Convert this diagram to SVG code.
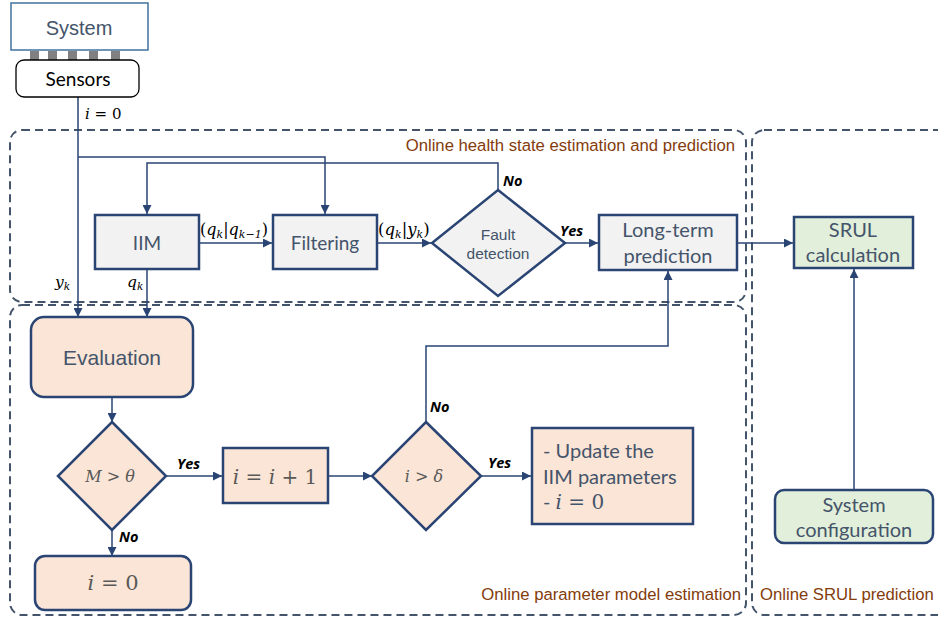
<svg xmlns="http://www.w3.org/2000/svg" width="938" height="621" viewBox="0 0 938 621">
<style>
.grp{fill:none;stroke:#44546a;stroke-width:2;stroke-dasharray:8 5}
.glab{font-family:"Liberation Sans",Arial,sans-serif;font-size:16.7px;fill:#843c0c}
.box{stroke:#2a4473;stroke-width:2.5}
.gray{fill:#f2f2f2}
.peach{fill:#fbe5d6}
.green{fill:#e2efda}
.t{font-family:Lato,"Open Sans",sans-serif;fill:#44546a;text-anchor:middle}
.ta{font-family:"Liberation Sans",Arial,sans-serif;fill:#44546a;text-anchor:middle}
.m{font-family:"DejaVu Serif","Liberation Serif",serif;font-style:italic;fill:#000}
.mg{font-family:"DejaVu Serif","Liberation Serif",serif;font-style:italic;fill:#595959;text-anchor:middle}
.yn{font-family:"Open Sans","Liberation Sans",sans-serif;font-weight:bold;font-style:italic;font-size:14.5px;fill:#000}
.c{fill:none;stroke:#2a4473;stroke-width:1.5}
</style>
<defs>
<marker id="ah" viewBox="0 0 10 10" refX="10" refY="5" markerWidth="9" markerHeight="9" markerUnits="userSpaceOnUse" orient="auto">
<path d="M0,0 L10,5 L0,10 z" fill="#2a4473"/>
</marker>
</defs>
<rect width="938" height="621" fill="#fff"/>

<g id="groups">
<rect class="grp" x="10" y="130" width="736" height="172" rx="12"/>
<rect class="grp" x="10" y="305" width="736" height="310" rx="12"/>
<rect class="grp" x="752" y="130" width="200" height="485" rx="12"/>
<text class="glab" x="735" y="151" text-anchor="end">Online health state estimation and prediction</text>
<text class="glab" x="741" y="600" text-anchor="end">Online parameter model estimation</text>
<text class="glab" x="760" y="600">Online SRUL prediction</text>
</g>

<g id="connectors">
<path class="c" d="M78,97 V317" marker-end="url(#ah)"/>
<path class="c" d="M78,157 H325 V214" marker-end="url(#ah)"/>
<path class="c" d="M498,190 V163 H147 V214" marker-end="url(#ah)"/>
<path class="c" d="M199,243 H272" marker-end="url(#ah)"/>
<path class="c" d="M377,243 H431" marker-end="url(#ah)"/>
<path class="c" d="M565,243 H598" marker-end="url(#ah)"/>
<path class="c" d="M737,243 H793" marker-end="url(#ah)"/>
<path class="c" d="M147,269 V317" marker-end="url(#ah)"/>
<path class="c" d="M112,397 V422" marker-end="url(#ah)"/>
<path class="c" d="M166,476 H222" marker-end="url(#ah)"/>
<path class="c" d="M328,476 H372" marker-end="url(#ah)"/>
<path class="c" d="M481,476 H531" marker-end="url(#ah)"/>
<path class="c" d="M426,422 V346 H668 V271" marker-end="url(#ah)"/>
<path class="c" d="M112,530 V556" marker-end="url(#ah)"/>
<path class="c" d="M854,490 V269" marker-end="url(#ah)"/>
<text class="m" x="85" y="119" font-size="15">i <tspan font-style="normal">= 0</tspan></text>
<text class="m" x="55" y="287" font-size="15.5">y<tspan font-size="10.5" dy="3">k</tspan></text>
<text class="m" x="127" y="287" font-size="15.5">q<tspan font-size="10.5" dy="3">k</tspan></text>
<text class="m" x="200" y="235" font-size="16"><tspan font-style="normal">(</tspan>q<tspan font-size="11" dy="3">k</tspan><tspan font-style="normal" dy="-3">|</tspan>q<tspan font-size="11" dy="3">k−1</tspan><tspan font-style="normal" dy="-3">)</tspan></text>
<text class="m" x="378" y="235" font-size="16.5"><tspan font-style="normal">(</tspan>q<tspan font-size="11" dy="3">k</tspan><tspan font-style="normal" dy="-3">|</tspan>y<tspan font-size="11" dy="3">k</tspan><tspan font-style="normal" dy="-3">)</tspan></text>
<text class="yn" x="503" y="186">No</text>
<text class="yn" x="560" y="236">Yes</text>
<text class="yn" x="177" y="469">Yes</text>
<text class="yn" x="119" y="542">No</text>
<text class="yn" x="430" y="412">No</text>
<text class="yn" x="488" y="468">Yes</text>
</g>

<g id="system">
<rect x="11" y="3" width="137" height="47" fill="#fff" stroke="#41719c" stroke-width="1.5"/>
<text class="ta" x="79" y="35" font-size="20">System</text>
</g>
<g id="pins" fill="#808080">
<rect x="30" y="51" width="9" height="9"/>
<rect x="48" y="51" width="9" height="9"/>
<rect x="68" y="51" width="9" height="9"/>
<rect x="89" y="51" width="9" height="9"/>
<rect x="111" y="51" width="9" height="9"/>
</g>
<g id="sensors">
<rect x="16" y="60" width="123" height="37" rx="8" fill="#fff" stroke="#000" stroke-width="1.3"/>
<text x="78" y="86" font-family="Lato,'Open Sans',sans-serif" font-size="19" fill="#000" text-anchor="middle">Sensors</text>
</g>

<g id="iim">
<rect class="box gray" x="95" y="215" width="104" height="54"/>
<text class="t" x="147" y="250" font-size="19">IIM</text>
</g>
<g id="filtering">
<rect class="box gray" x="273" y="215" width="104" height="54"/>
<text class="t" x="325" y="250" font-size="19">Filtering</text>
</g>
<g id="fault">
<polygon class="box gray" points="498,190 565,243 498,296 432,243"/>
<text class="ta" x="498" y="240" font-size="15.5">Fault</text>
<text class="ta" x="498" y="259" font-size="15.5">detection</text>
</g>
<g id="longterm">
<rect class="box gray" x="599" y="215" width="138" height="55"/>
<text class="t" x="668" y="237" font-size="20">Long-term</text>
<text class="t" x="668" y="263" font-size="20">prediction</text>
</g>
<g id="srul">
<rect class="box green" x="794" y="217" width="119" height="51"/>
<text class="t" x="853" y="237" font-size="20">SRUL</text>
<text class="t" x="853" y="262" font-size="20">calculation</text>
</g>
<g id="sysconfig">
<rect class="box green" x="775" y="490" width="158" height="53" rx="9"/>
<text class="t" x="854" y="512" font-size="20">System</text>
<text class="t" x="854" y="537" font-size="20">configuration</text>
</g>
<g id="evaluation">
<rect class="box peach" x="31" y="317" width="162" height="80" rx="13"/>
<text class="ta" x="112" y="365" font-size="21">Evaluation</text>
</g>
<g id="mtheta">
<polygon class="box peach" points="112,422 166,476 112,530 58,476"/>
<text class="mg" x="110" y="482" font-size="16">M <tspan font-style="normal">&gt;</tspan> θ</text>
</g>
<g id="incr">
<rect class="box peach" x="223" y="448" width="105" height="55"/>
<text class="mg" x="275" y="484" font-size="20">i <tspan font-style="normal">= </tspan>i<tspan font-style="normal"> + 1</tspan></text>
</g>
<g id="idelta">
<polygon class="box peach" points="426,422 481,476 426,530 372,476"/>
<text class="mg" x="424" y="482" font-size="16">i <tspan font-style="normal">&gt;</tspan> δ</text>
</g>
<g id="update">
<rect class="box peach" x="532" y="428" width="161" height="96"/>
<text x="543" y="458" font-family="Lato,'Open Sans',sans-serif" font-size="20" fill="#44546a">- Update the</text>
<text x="543" y="484" font-family="Lato,'Open Sans',sans-serif" font-size="20" fill="#44546a">IIM parameters</text>
<text x="543" y="509" font-size="20" fill="#44546a"><tspan font-family="Lato,'Open Sans',sans-serif">- </tspan><tspan font-family="'DejaVu Serif',serif" font-style="italic">i</tspan><tspan font-family="'DejaVu Serif',serif"> = 0</tspan></text>
</g>
<g id="izero">
<rect class="box peach" x="35" y="556" width="156" height="54" rx="10"/>
<text class="mg" x="113" y="590" font-size="21">i <tspan font-style="normal">= 0</tspan></text>
</g>
</svg>
